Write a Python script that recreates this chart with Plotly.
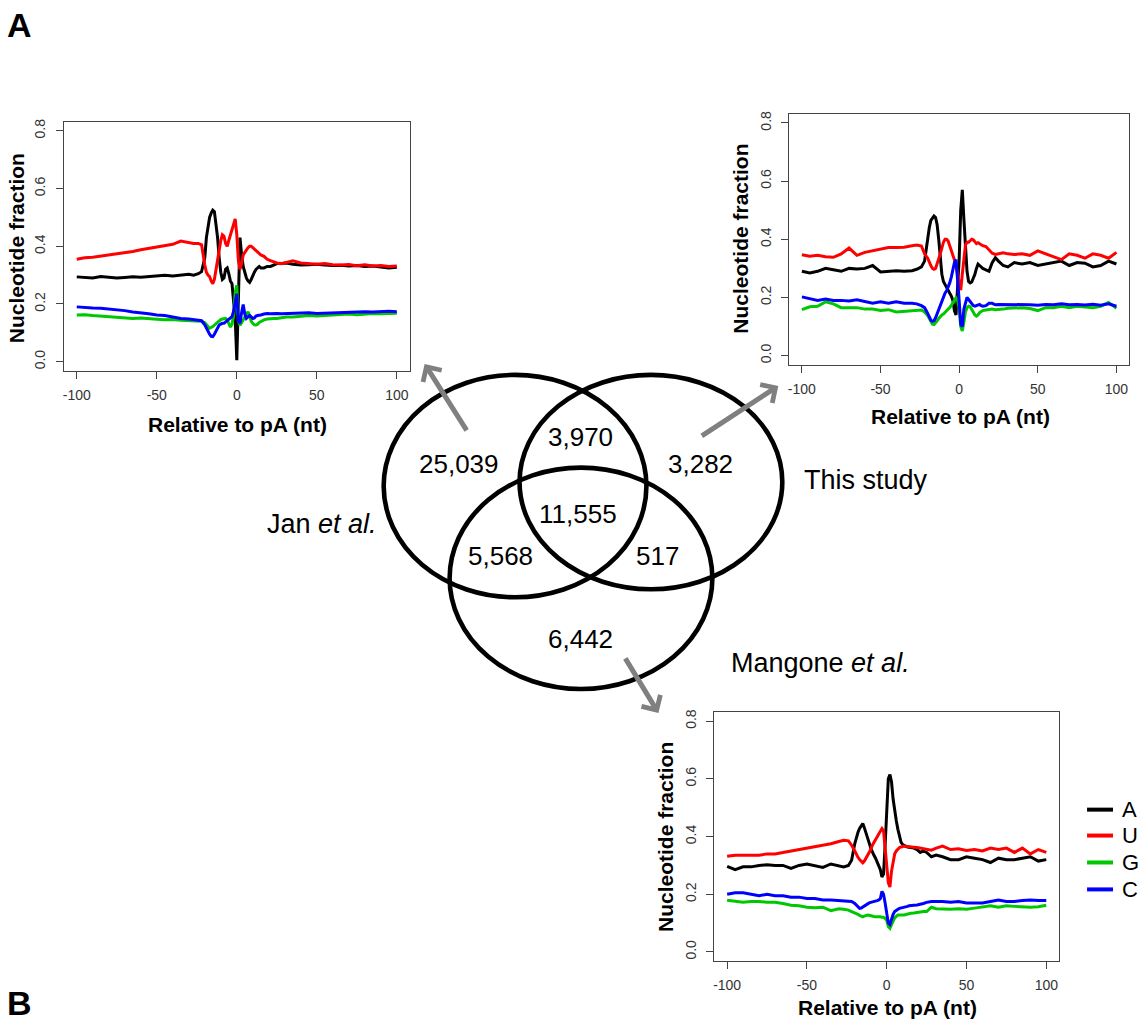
import plotly.graph_objects as go

W, H = 1139, 1028

# ---------------- data ----------------
POS = [-100, -95, -90, -85, -80, -75, -70, -65, -60, -55, -50, -45, -40, -35, -30,
       -27, -24, -22,
       -20, -19, -18, -17, -16, -15, -14, -13, -12, -11, -10, -9, -8, -7, -6, -5, -4, -3, -2, -1,
       0, 1, 2, 3, 4, 5, 6, 7, 8, 9, 10, 11, 12, 13, 14, 15,
       17, 19, 21, 23, 25,
       28, 31,
       35, 40, 45, 50, 55, 60, 65, 70, 75, 80, 85, 90, 95, 100]

NUC = ["A", "U", "G", "C"]
NUC_COLORS = ["#000000", "#ff0000", "#00c800", "#0000ff"]

# Jan et al. (top left)
JAN_A = [0.294, 0.292, 0.290, 0.295, 0.293, 0.290, 0.292, 0.294, 0.293, 0.295, 0.298, 0.300, 0.297, 0.300, 0.303,
         0.300, 0.305, 0.312,
         0.36, 0.43, 0.47, 0.50, 0.515, 0.525, 0.52, 0.48, 0.43, 0.36, 0.31, 0.285, 0.29, 0.32, 0.325, 0.305, 0.28, 0.27, 0.22, 0.15,
         0.005, 0.25, 0.43, 0.37, 0.33, 0.31, 0.29, 0.28, 0.275, 0.285, 0.30, 0.31, 0.32, 0.325, 0.33, 0.325,
         0.325, 0.33, 0.33, 0.335, 0.34,
         0.34, 0.342,
         0.338, 0.335, 0.336, 0.338, 0.335, 0.333, 0.334, 0.332, 0.333, 0.330, 0.332, 0.328, 0.325, 0.327]
JAN_U = [0.355, 0.360, 0.362, 0.366, 0.370, 0.373, 0.376, 0.382, 0.388, 0.393, 0.398, 0.403, 0.407, 0.418, 0.413,
         0.410, 0.410, 0.405,
         0.335, 0.31, 0.30, 0.295, 0.28, 0.27, 0.285, 0.32, 0.35, 0.39, 0.42, 0.44, 0.435, 0.41, 0.40, 0.42, 0.44, 0.46, 0.475, 0.495,
         0.44, 0.35, 0.32, 0.34, 0.37, 0.38, 0.39, 0.395, 0.40, 0.40, 0.395, 0.39, 0.385, 0.38, 0.375, 0.37,
         0.365, 0.355, 0.35, 0.345, 0.342,
         0.340, 0.345,
         0.350, 0.342, 0.340, 0.338, 0.340, 0.336, 0.335, 0.337, 0.333, 0.336, 0.332, 0.333, 0.330, 0.332]
JAN_G = [0.162, 0.163, 0.160, 0.158, 0.156, 0.155, 0.152, 0.150, 0.151, 0.148, 0.147, 0.145, 0.146, 0.144, 0.143,
         0.143, 0.142, 0.140,
         0.135, 0.13, 0.122, 0.116, 0.118, 0.122, 0.127, 0.132, 0.138, 0.143, 0.146, 0.148, 0.15, 0.15, 0.145, 0.13, 0.12, 0.13, 0.16, 0.24,
         0.265, 0.14, 0.127, 0.135, 0.145, 0.155, 0.167, 0.173, 0.16, 0.14, 0.133, 0.128, 0.127, 0.13, 0.136, 0.14,
         0.145, 0.148, 0.15, 0.15, 0.15,
         0.152, 0.155,
         0.155, 0.158, 0.160, 0.158, 0.160, 0.162, 0.163, 0.165, 0.163, 0.165, 0.167, 0.166, 0.168, 0.168]
JAN_C = [0.190, 0.187, 0.186, 0.185, 0.183, 0.180, 0.177, 0.172, 0.170, 0.166, 0.162, 0.160, 0.155, 0.150, 0.148,
         0.146, 0.145, 0.142,
         0.128, 0.116, 0.105, 0.095, 0.088, 0.087, 0.095, 0.105, 0.115, 0.127, 0.13, 0.133, 0.133, 0.138, 0.142, 0.145, 0.15, 0.156, 0.175, 0.21,
         0.235, 0.14, 0.133, 0.17, 0.198, 0.165, 0.15, 0.155, 0.16, 0.155, 0.15, 0.152, 0.158, 0.16, 0.16, 0.162,
         0.165, 0.167, 0.166, 0.167, 0.167,
         0.166, 0.167,
         0.167, 0.168, 0.170, 0.167, 0.168, 0.170, 0.171, 0.170, 0.172, 0.173, 0.172, 0.174, 0.175, 0.173]

# This study (top right)
THIS_A = [0.290, 0.284, 0.290, 0.300, 0.295, 0.290, 0.300, 0.298, 0.300, 0.310, 0.288, 0.290, 0.292, 0.290, 0.292,
          0.297, 0.305, 0.325,
          0.41, 0.44, 0.465, 0.475, 0.48, 0.475, 0.45, 0.40, 0.33, 0.28, 0.255, 0.245, 0.238, 0.23, 0.218, 0.205, 0.19, 0.155, 0.14, 0.22,
          0.33, 0.50, 0.57, 0.47, 0.36, 0.29, 0.255, 0.25, 0.253, 0.265, 0.28, 0.30, 0.315, 0.31, 0.305, 0.30,
          0.295, 0.29, 0.32, 0.337, 0.325,
          0.31, 0.305,
          0.32, 0.315, 0.32, 0.31, 0.315, 0.32, 0.325, 0.31, 0.32, 0.318, 0.305, 0.31, 0.325, 0.315]
THIS_U = [0.347, 0.342, 0.345, 0.340, 0.338, 0.350, 0.370, 0.345, 0.355, 0.360, 0.365, 0.372, 0.372, 0.373, 0.378,
          0.38, 0.377, 0.35,
          0.335, 0.32, 0.31, 0.30, 0.297, 0.30, 0.315, 0.33, 0.35, 0.37, 0.39, 0.40, 0.40, 0.394, 0.38, 0.36, 0.345, 0.33, 0.31, 0.28,
          0.25, 0.225, 0.28, 0.34, 0.38, 0.39, 0.39, 0.395, 0.40, 0.398, 0.39, 0.385, 0.388, 0.385, 0.38, 0.378,
          0.375, 0.362, 0.352, 0.348, 0.35,
          0.354, 0.35,
          0.348, 0.35, 0.345, 0.36, 0.35, 0.34, 0.33, 0.35, 0.345, 0.335, 0.35, 0.345, 0.335, 0.355]
THIS_G = [0.158, 0.168, 0.170, 0.185, 0.178, 0.165, 0.165, 0.165, 0.160, 0.160, 0.155, 0.158, 0.150, 0.152, 0.155,
          0.155, 0.157, 0.15,
          0.138, 0.128, 0.118, 0.108, 0.107, 0.112, 0.12, 0.128, 0.135, 0.14, 0.143, 0.148, 0.153, 0.158, 0.165, 0.173, 0.182, 0.19, 0.199, 0.19,
          0.165, 0.10, 0.085, 0.115, 0.15, 0.165, 0.17, 0.168, 0.158, 0.148, 0.14, 0.136, 0.14, 0.148, 0.153, 0.155,
          0.157, 0.158, 0.16, 0.158, 0.158,
          0.16, 0.163,
          0.165, 0.165, 0.162, 0.155, 0.165, 0.165, 0.17, 0.165, 0.17, 0.168, 0.165, 0.17, 0.183, 0.163]
THIS_C = [0.202, 0.195, 0.190, 0.195, 0.190, 0.190, 0.188, 0.192, 0.185, 0.180, 0.185, 0.180, 0.185, 0.180, 0.180,
          0.178, 0.172, 0.165,
          0.145, 0.135, 0.122, 0.118, 0.12, 0.13, 0.145, 0.158, 0.175, 0.19, 0.205, 0.215, 0.223, 0.235, 0.25, 0.27, 0.296, 0.32, 0.33, 0.27,
          0.19, 0.107, 0.10, 0.16, 0.185, 0.2, 0.193, 0.185, 0.178, 0.172, 0.17, 0.172, 0.176, 0.176, 0.172, 0.17,
          0.172, 0.18, 0.18, 0.175, 0.176,
          0.176, 0.175,
          0.176, 0.175, 0.175, 0.173, 0.176, 0.175, 0.178, 0.175, 0.176, 0.174, 0.177, 0.173, 0.178, 0.17]

# Mangone et al. (bottom)
MAN_A = [0.297, 0.285, 0.295, 0.295, 0.300, 0.302, 0.300, 0.300, 0.290, 0.300, 0.305, 0.300, 0.293, 0.305, 0.298,
         0.295, 0.30, 0.318,
         0.376, 0.40, 0.415, 0.428, 0.438, 0.445, 0.43, 0.41, 0.395, 0.378, 0.36, 0.345, 0.335, 0.325, 0.313, 0.30, 0.285, 0.26, 0.27, 0.37,
         0.50, 0.60, 0.615, 0.59, 0.53, 0.485, 0.455, 0.425, 0.40, 0.38, 0.372, 0.368, 0.366, 0.364, 0.363, 0.362,
         0.36, 0.355, 0.345, 0.35, 0.345,
         0.33, 0.336,
         0.33, 0.32, 0.32, 0.33, 0.325, 0.32, 0.31, 0.325, 0.32, 0.32, 0.325, 0.33, 0.315, 0.32]
MAN_U = [0.332, 0.335, 0.335, 0.335, 0.335, 0.340, 0.340, 0.345, 0.350, 0.355, 0.360, 0.365, 0.372, 0.375, 0.383,
         0.387, 0.385, 0.37,
         0.35, 0.336, 0.328, 0.32, 0.314, 0.309, 0.315, 0.325, 0.334, 0.345, 0.355, 0.37, 0.38, 0.39, 0.40, 0.41, 0.42, 0.428, 0.42, 0.37,
         0.30, 0.24, 0.225, 0.28, 0.315, 0.34, 0.35, 0.357, 0.362, 0.364, 0.366, 0.367, 0.366, 0.365, 0.364, 0.364,
         0.363, 0.362, 0.36, 0.358, 0.355,
         0.353, 0.36,
         0.367, 0.355, 0.358, 0.352, 0.355, 0.35, 0.36, 0.355, 0.36, 0.345, 0.36, 0.34, 0.355, 0.345]
MAN_G = [0.179, 0.175, 0.172, 0.175, 0.175, 0.172, 0.172, 0.168, 0.162, 0.160, 0.155, 0.153, 0.155, 0.143, 0.150,
         0.148, 0.145, 0.14,
         0.136, 0.133, 0.13, 0.127, 0.124, 0.122, 0.124, 0.127, 0.128, 0.127, 0.125, 0.124, 0.123, 0.122, 0.122, 0.123, 0.122, 0.12, 0.12, 0.116,
         0.11, 0.088, 0.082, 0.095, 0.11, 0.118, 0.123, 0.128, 0.128, 0.127, 0.128, 0.128, 0.13, 0.13, 0.132, 0.134,
         0.135, 0.137, 0.14, 0.14, 0.14,
         0.155, 0.15,
         0.148, 0.148, 0.15, 0.148, 0.152, 0.155, 0.16, 0.155, 0.16, 0.158, 0.157, 0.155, 0.157, 0.162]
MAN_C = [0.200, 0.205, 0.205, 0.200, 0.195, 0.200, 0.195, 0.195, 0.190, 0.190, 0.185, 0.185, 0.180, 0.180, 0.178,
         0.178, 0.176, 0.175,
         0.168, 0.162, 0.156, 0.151, 0.152, 0.156, 0.16, 0.164, 0.168, 0.17, 0.172, 0.173, 0.175, 0.176, 0.178, 0.18, 0.185, 0.21, 0.2, 0.17,
         0.125, 0.1, 0.095, 0.117, 0.13, 0.14, 0.145, 0.148, 0.151, 0.152, 0.154, 0.155, 0.157, 0.158, 0.16, 0.16,
         0.162, 0.163, 0.165, 0.168, 0.172,
         0.175, 0.175,
         0.175, 0.172, 0.175, 0.17, 0.17, 0.17, 0.175, 0.18, 0.175, 0.175, 0.178, 0.18, 0.178, 0.178]

X_TICKS = [-100, -50, 0, 50, 100]
X_TICK_TEXT = ["-100", "-50", "0", "50", "100"]
Y_TICKS = [0.0, 0.2, 0.4, 0.6, 0.8]
Y_TICK_TEXT = ["0.0", "0.2", "0.4", "0.6", "0.8"]

VENN_COUNTS = ["25,039", "3,970", "3,282", "11,555", "5,568", "517", "6,442"]
SET_NAMES = ["Jan <i>et al.</i>", "This study", "Mangone <i>et al.</i>"]

for arr in [JAN_A, JAN_U, JAN_G, JAN_C, THIS_A, THIS_U, THIS_G, THIS_C, MAN_A, MAN_U, MAN_G, MAN_C]:
    assert len(arr) == len(POS), len(arr)

# ---------------- layout helpers ----------------
def px(x):
    return x / W

def py(y):
    return 1 - y / H

# plot boxes in pixels (left, top, right, bottom)
BOXES = [(63, 119, 409, 369), (789, 111, 1129, 363), (714, 711, 1059, 961)]
DATASETS = [[JAN_A, JAN_U, JAN_G, JAN_C], [THIS_A, THIS_U, THIS_G, THIS_C], [MAN_A, MAN_U, MAN_G, MAN_C]]

FONT = "Liberation Sans, Arial, sans-serif"
AXC = "#444444"

fig = go.Figure()
layout = dict(
    width=W, height=H, margin=dict(l=0, r=0, t=0, b=0),
    paper_bgcolor="white", plot_bgcolor="white",
    font=dict(family=FONT, color="black"),
    showlegend=False,
)

annotations = []
shapes = []
for i, (box, series) in enumerate(zip(BOXES, DATASETS)):
    l, t, r, b = box
    xa = "xaxis" if i == 0 else f"xaxis{i+1}"
    ya = "yaxis" if i == 0 else f"yaxis{i+1}"
    xr = "x" if i == 0 else f"x{i+1}"
    yr = "y" if i == 0 else f"y{i+1}"
    for name, col, vals in zip(NUC, NUC_COLORS, series):
        fig.add_trace(go.Scatter(
            x=POS, y=vals, mode="lines", name=name,
            line=dict(color=col, width=3),
            xaxis=xr, yaxis=yr, legendgroup=name,
            showlegend=False, hoverinfo="skip"))
    layout[xa] = dict(domain=[px(l), px(r)], range=[-108, 108], anchor=yr,
                      showgrid=False, zeroline=False, showline=True, mirror=True,
                      linecolor=AXC, linewidth=1.3, ticks="outside", ticklen=7,
                      tickcolor=AXC, tickwidth=1.3,
                      tickvals=X_TICKS, ticktext=X_TICK_TEXT,
                      tickfont=dict(size=14, color="#333333", family=FONT),
                      ticklabelstandoff=4, fixedrange=True)
    layout[ya] = dict(domain=[py(b), py(t)], range=[-0.032, 0.832], anchor=xr,
                      showgrid=False, zeroline=False, showline=True, mirror=True,
                      linecolor=AXC, linewidth=1.3, ticks="outside", ticklen=7,
                      tickcolor=AXC, tickwidth=1.3,
                      tickvals=Y_TICKS, ticktext=Y_TICK_TEXT, tickangle=-90,
                      tickfont=dict(size=14, color="#333333", family=FONT),
                      ticklabelstandoff=5, fixedrange=True)

# legend (drawn next to the bottom plot)
LEG_X0, LEG_X1, LEG_TX = 1087, 1113, 1120
LEG_Y = [809, 835, 862, 889]
for name, col, yy in zip(NUC, NUC_COLORS, LEG_Y):
    shapes.append(dict(type="line", xref="paper", yref="paper",
                       x0=px(LEG_X0), x1=px(LEG_X1), y0=py(yy), y1=py(yy),
                       line=dict(color=col, width=4)))
    annotations.append(dict(x=px(LEG_TX), y=py(yy), xref="paper", yref="paper", text=name,
                            showarrow=False, font=dict(size=22, family=FONT, color="black"),
                            xanchor="left", yanchor="middle"))

# axis titles
XT = [(237, 423), (960, 415), (887, 1007)]
YT = [(15, 246), (740, 236), (665, 836)]
for (xx, yy) in XT:
    annotations.append(dict(x=px(xx), y=py(yy), xref="paper", yref="paper",
                            text="<b>Relative to pA (nt)</b>", showarrow=False,
                            font=dict(size=21, family=FONT, color="black"),
                            xanchor="center", yanchor="middle"))
for (xx, yy) in YT:
    annotations.append(dict(x=px(xx), y=py(yy), xref="paper", yref="paper",
                            text="<b>Nucleotide fraction</b>", showarrow=False, textangle=-90,
                            font=dict(size=21, family=FONT, color="black"),
                            xanchor="center", yanchor="middle"))

# Venn counts and labels
COUNT_POS = [(458, 462), (580, 435), (700, 462), (578, 512), (500, 555), (657, 555), (580, 638)]
for txt, (xx, yy) in zip(VENN_COUNTS, COUNT_POS):
    annotations.append(dict(x=px(xx), y=py(yy), xref="paper", yref="paper", text=txt,
                            showarrow=False, font=dict(size=26, family=FONT, color="black"),
                            xanchor="center", yanchor="middle"))
NAME_POS = [(321, 523), (866, 478), (820, 662)]
for txt, (xx, yy) in zip(SET_NAMES, NAME_POS):
    annotations.append(dict(x=px(xx), y=py(yy), xref="paper", yref="paper", text=txt,
                            showarrow=False, font=dict(size=27, family=FONT, color="black"),
                            xanchor="center", yanchor="middle"))

# panel letters
annotations.append(dict(x=px(19), y=py(22), xref="paper", yref="paper", text="<b>A</b>",
                        showarrow=False, font=dict(size=34, family=FONT, color="black"),
                        xanchor="center", yanchor="middle"))
annotations.append(dict(x=px(19), y=py(1003), xref="paper", yref="paper", text="<b>B</b>",
                        showarrow=False, font=dict(size=34, family=FONT, color="black"),
                        xanchor="center", yanchor="middle"))

# arrows (tip, tail) in pixels
ARROWS = [((424, 362), (467, 430)), ((778, 384), (700, 435)), ((658, 712), (624, 656))]
for (tx, ty), (sx, sy) in ARROWS:
    annotations.append(dict(x=px(tx), y=py(ty), xref="paper", yref="paper",
                            ax=sx - tx, ay=sy - ty, axref="pixel", ayref="pixel",
                            text="", showarrow=True, arrowhead=4, arrowsize=0.85,
                            arrowwidth=5, arrowcolor="#808080"))

# Venn circles (pixel bounding boxes)
CIRCLES = [(383, 373, 646, 596), (519, 373, 782, 588), (449, 466, 712, 688)]
for (x0, y0, x1, y1) in CIRCLES:
    shapes.append(dict(type="circle", xref="paper", yref="paper",
                       x0=px(x0), x1=px(x1), y0=py(y1), y1=py(y0),
                       line=dict(color="black", width=4.6), fillcolor="rgba(0,0,0,0)"))

layout["annotations"] = annotations
layout["shapes"] = shapes
fig.update_layout(**layout)
fig.write_html("out.html")
